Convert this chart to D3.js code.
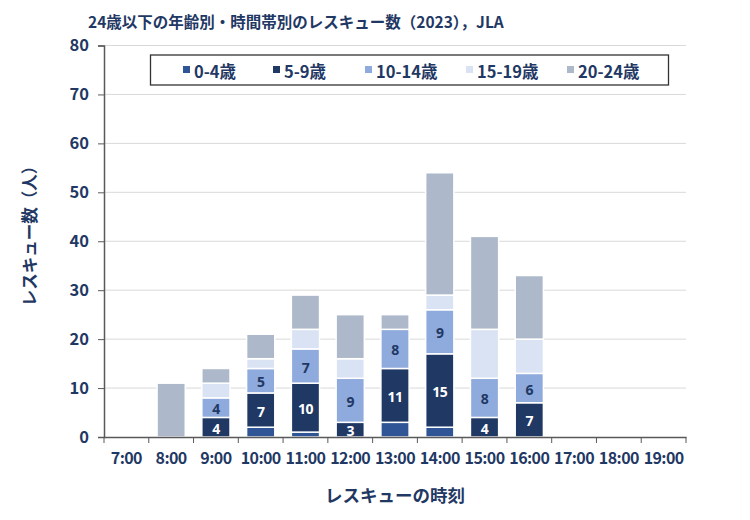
<!DOCTYPE html>
<html><head><meta charset="utf-8">
<script src="https://cdn.jsdelivr.net/npm/d3@7"></script>
<style>body{margin:0;background:#fff;} svg{display:block;}</style>
</head><body>
<svg id="chart" width="750" height="520"></svg>
<script>
const hours = ["7:00","8:00","9:00","10:00","11:00","12:00","13:00","14:00","15:00","16:00","17:00","18:00","19:00"];
const seriesNames = ["0-4歳","5-9歳","10-14歳","15-19歳","20-24歳"];
const age0_4   = [0,0,0,2,1,0,3,2,0,0,0,0,0];
const age5_9   = [0,0,4,7,10,3,11,15,4,7,0,0,0];
const age10_14 = [0,0,4,5,7,9,8,9,8,6,0,0,0];
const age15_19 = [0,0,3,2,4,4,0,3,10,7,0,0,0];
const age20_24 = [0,11,3,5,7,9,3,25,19,13,0,0,0];
const yTicks = [0,10,20,30,40,50,60,70,80];
const colors = ["#2f5597","#1f3864","#8faadc","#dae3f3","#adb9ca"];
const labelSeries = [1,2];
const labelColors = {1:"#ffffff",2:"#1f3864"};

const navy = "#1f3864";
const font = "'Noto Sans CJK JP','Noto Sans',sans-serif";
const numFont = "'Noto Sans','DejaVu Sans',sans-serif";
const svg = d3.select("#chart");
const m = {left:104, right:686, top:45.5, bottom:437};

const allSeries = [age0_4, age5_9, age10_14, age15_19, age20_24];
const table = hours.map((h,i)=>{const o={hour:h}; seriesNames.forEach((s,j)=>o[s]=allSeries[j][i]); return o;});
const stack = d3.stack().keys(seriesNames)(table);

const x = d3.scaleBand().domain(hours).range([m.left,m.right]).paddingInner(0.37).paddingOuter(0.185);
const xb = d3.scaleBand().domain(hours).range([m.left,m.right]);
const y = d3.scaleLinear().domain([0,80]).range([m.bottom,m.top]);

// gridlines
svg.append("g").selectAll("line").data(yTicks.filter(d=>d>0)).join("line")
  .attr("x1",m.left).attr("x2",m.right).attr("y1",d=>y(d)).attr("y2",d=>y(d))
  .attr("stroke","#d9d9d9").attr("stroke-width",1);

// bars
const g = svg.append("g");
stack.forEach((layer,j)=>{
  g.append("g").selectAll("rect").data(layer.filter(d=>d[1]-d[0]>0)).join("rect")
    .attr("x",d=>x(d.data.hour)).attr("width",x.bandwidth())
    .attr("y",d=>y(d[1])).attr("height",d=>y(d[0])-y(d[1]))
    .attr("fill",colors[j]).attr("stroke","#fff").attr("stroke-width",1.5);
});
labelSeries.forEach(j=>{
  g.append("g").selectAll("text").data(stack[j].filter(d=>d[1]-d[0]>0)).join("text")
    .attr("x",d=>x(d.data.hour)+x.bandwidth()/2).attr("y",d=>(y(d[0])+y(d[1]))/2+1)
    .attr("text-anchor","middle").attr("dominant-baseline","central")
    .attr("fill",labelColors[j]).attr("font-family",numFont).attr("font-weight","bold").attr("font-size",14)
    .attr("letter-spacing","-0.5")
    .text(d=>d[1]-d[0]);
});

// axes
const yAxis = svg.append("g").attr("transform",`translate(${m.left},0)`)
  .call(d3.axisLeft(y).tickValues(yTicks).tickSize(6).tickPadding(9));
yAxis.select(".domain").attr("stroke","#595959").attr("stroke-width",1.5);
yAxis.selectAll(".tick line").attr("stroke","#595959");
yAxis.selectAll("text").attr("font-family",font).attr("font-weight","bold").attr("font-size",16.5).attr("fill",navy);

const xAxis = svg.append("g").attr("transform",`translate(0,${m.bottom})`)
  .call(d3.axisBottom(xb).tickSize(0).tickPadding(16));
xAxis.select(".domain").attr("stroke","#595959").attr("stroke-width",1.5);
xAxis.selectAll("text").attr("font-family",font).attr("font-weight","bold").attr("font-size",16).attr("fill",navy).attr("letter-spacing","-0.6");
svg.append("g").selectAll("line").data(hours.concat(["end"])).join("line")
  .attr("x1",(d,i)=>m.left+i*xb.bandwidth()).attr("x2",(d,i)=>m.left+i*xb.bandwidth())
  .attr("y1",m.bottom).attr("y2",m.bottom+6).attr("stroke","#595959").attr("stroke-width",1);

// titles
svg.append("text").attr("x",88).attr("y",28).attr("font-family",font).attr("font-weight","bold")
  .attr("font-size",15.5).attr("fill",navy).text("24歳以下の年齢別・時間帯別のレスキュー数（2023），JLA");
svg.append("text").attr("x",(m.left+m.right)/2).attr("y",502).attr("text-anchor","middle")
  .attr("font-family",font).attr("font-weight","bold").attr("font-size",17.5).attr("fill",navy).text("レスキューの時刻");
svg.append("text").attr("transform","translate(36,232) rotate(-90)").attr("text-anchor","middle")
  .attr("font-family",font).attr("font-weight","bold").attr("font-size",16.5).attr("fill",navy).text("レスキュー数（人）");

// legend
const lg = svg.append("g");
lg.append("rect").attr("x",150.5).attr("y",55).attr("width",518).attr("height",30)
  .attr("fill","#fff").attr("stroke","#333").attr("stroke-width",1.3);
const legX = [183,273,365,466,567];
seriesNames.forEach((s,j)=>{
  lg.append("rect").attr("x",legX[j]).attr("y",66).attr("width",7).attr("height",7).attr("fill",colors[j]);
  lg.append("text").attr("x",legX[j]+11).attr("y",70.5).attr("dominant-baseline","central")
    .attr("font-family",font).attr("font-weight","bold").attr("font-size",16.5).attr("fill",navy).text(s);
});
</script>
</body></html>
